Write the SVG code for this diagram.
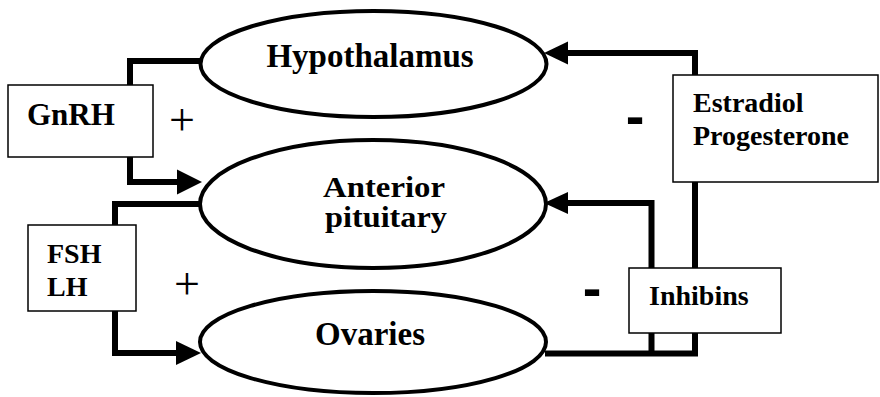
<svg xmlns="http://www.w3.org/2000/svg" width="880" height="397" viewBox="0 0 880 397">
<style>
.conn{fill:none;stroke:#000;stroke-width:6;stroke-linejoin:miter}
.head{fill:#000}
.oval{fill:#fff;stroke:#000;stroke-width:4}
.box{fill:#fff;stroke:#000;stroke-width:1.5}
.big{font-family:"Liberation Serif","Times New Roman",serif;font-weight:bold;font-size:33px;fill:#000}
.lbl{font-family:"Liberation Serif","Times New Roman",serif;font-weight:bold;font-size:28px;fill:#000}
.sign{font-family:"Liberation Serif","Times New Roman",serif;font-size:46px;fill:#000}
.minus{font-family:"Liberation Sans",Arial,sans-serif;font-weight:bold;font-size:56px;fill:#000}
</style>
<rect width="880" height="397" fill="#fff"/>
<g id="connectors">
<path class="conn" d="M200,61 H130 V182 H180"/>
<polygon class="head" points="202,182 177,169.5 177,194.5"/>
<path class="conn" d="M200,204 H115 V353 H178"/>
<polygon class="head" points="201,353 176,341 176,365"/>
<path class="conn" d="M545,353.5 H695 V53 H566"/>
<polygon class="head" points="544,53 568,41.5 568,64.5"/>
<path class="conn" d="M651.5,353.5 V203 H566"/>
<polygon class="head" points="544,203 568,192 568,214"/>
</g>
<g id="hypothalamus">
<ellipse class="oval" cx="373.5" cy="64" rx="173" ry="53"/>
<text class="big" x="370" y="67" text-anchor="middle">Hypothalamus</text>
</g>
<g id="anterior-pituitary">
<ellipse class="oval" cx="373" cy="204" rx="173" ry="64"/>
<text class="big" x="384" y="197" text-anchor="middle" style="font-size:30px" textLength="122" lengthAdjust="spacingAndGlyphs">Anterior</text>
<text class="big" x="386" y="227" text-anchor="middle" style="font-size:30px" textLength="122" lengthAdjust="spacingAndGlyphs">pituitary</text>
</g>
<g id="ovaries">
<ellipse class="oval" cx="373" cy="342" rx="173" ry="51"/>
<text class="big" x="370" y="345" text-anchor="middle">Ovaries</text>
</g>
<g id="gnrh">
<rect class="box" x="8" y="85" width="145" height="72"/>
<text class="lbl" x="27" y="125" style="font-size:31px">GnRH</text>
</g>
<g id="fsh-lh">
<rect class="box" x="28" y="225" width="108" height="86"/>
<text class="lbl" x="47" y="263">FSH</text>
<text class="lbl" x="47" y="296">LH</text>
</g>
<g id="estradiol-progesterone">
<rect class="box" x="673" y="75" width="205" height="107"/>
<text class="lbl" x="693" y="112">Estradiol</text>
<text class="lbl" x="693" y="145">Progesterone</text>
</g>
<g id="inhibins">
<rect class="box" x="629" y="268" width="152" height="65"/>
<text class="lbl" x="649" y="305">Inhibins</text>
</g>
<g id="signs">
<text class="sign" x="182" y="135" text-anchor="middle">+</text>
<text class="sign" x="187" y="299" text-anchor="middle">+</text>
<text class="minus" x="635" y="135" text-anchor="middle">-</text>
<text class="minus" x="592" y="307" text-anchor="middle">-</text>
</g>
</svg>
